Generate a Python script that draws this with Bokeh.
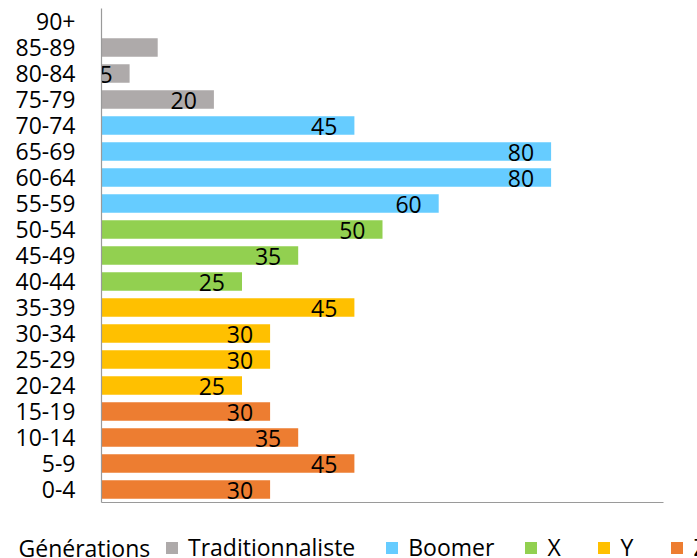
from bokeh.plotting import figure
from bokeh.models import ColumnDataSource, FactorRange, Legend, LegendItem, Label, FixedTicker
from bokeh.layouts import column
from bokeh.core.properties import value
from bokeh.embed import file_html
from bokeh.resources import INLINE

# ---- data ----
ages = ["0-4", "5-9", "10-14", "15-19", "20-24", "25-29", "30-34", "35-39",
        "40-44", "45-49", "50-54", "55-59", "60-64", "65-69", "70-74",
        "75-79", "80-84", "85-89", "90+"]
counts = [30, 45, 35, 30, 25, 30, 30, 45, 25, 35, 50, 60, 80, 80, 45, 20, 5, 10, 0]
labels = ["30", "45", "35", "30", "25", "30", "30", "45", "25", "35", "50",
          "60", "80", "80", "45", "20", "5", "", ""]
generation = ["Z", "Z", "Z", "Z", "Y", "Y", "Y", "Y", "X", "X", "X",
              "Boomer", "Boomer", "Boomer", "Boomer",
              "Traditionnaliste", "Traditionnaliste", "Traditionnaliste", "Traditionnaliste"]
gen_order = ["Traditionnaliste", "Boomer", "X", "Y", "Z"]
gen_colors = ["#AEAAAA", "#66CCFF", "#92D050", "#FFC000", "#ED7D31"]
legend_title = "Générations"

FONT = "Open Sans"
FS = "23px"
AXIS_COLOR = "#9A9A9A"

p = figure(y_range=FactorRange(*ages), x_range=(0, 100),
           frame_width=562, frame_height=494,
           min_border_left=101, min_border_right=34, min_border_top=8, min_border_bottom=8,
           output_backend="svg", toolbar_location=None)

sources = []
for g, c in zip(gen_order, gen_colors):
    idx = [i for i, gg in enumerate(generation) if gg == g]
    src = ColumnDataSource(dict(age=[ages[i] for i in idx],
                                val=[counts[i] for i in idx],
                                lab=[labels[i] for i in idx]))
    sources.append(src)
    p.hbar(y="age", right="val", left=0, height=0.71, source=src,
           fill_color=c, line_color=None)
    p.text(x="val", y="age", text="lab", source=src, x_offset=-17, y_offset=1,
           text_align="right", text_baseline="middle",
           text_font=value(FONT), text_font_size=FS, text_color="black")

p.xgrid.visible = False
p.ygrid.visible = False
p.outline_line_color = None
p.background_fill_color = "white"
p.border_fill_color = "white"

p.yaxis.axis_line_color = AXIS_COLOR
p.yaxis.axis_line_width = 1.2
p.yaxis.major_tick_line_color = None
p.yaxis.minor_tick_line_color = None
p.yaxis.major_tick_out = 0
p.yaxis.major_label_standoff = 26
p.yaxis.major_label_text_font = FONT
p.yaxis.major_label_text_font_size = FS
p.yaxis.major_label_text_color = "black"

p.xaxis.ticker = FixedTicker(ticks=[])
p.xaxis.axis_line_color = AXIS_COLOR
p.xaxis.axis_line_width = 1.2
p.xaxis.major_tick_line_color = None
p.xaxis.minor_tick_line_color = None
p.xaxis.major_tick_out = 0
p.xaxis.major_label_standoff = 0
p.xaxis.major_label_text_font_size = "0px"

# ---- legend strip (separate figure, frame covers the whole strip) ----
lf = figure(width=697, height=48, x_range=(0, 1), y_range=(0, 1),
            min_border=0, output_backend="svg", toolbar_location=None)
lf.axis.visible = False
lf.grid.visible = False
lf.outline_line_color = None
lf.background_fill_color = "white"
lf.border_fill_color = "white"

for fig in (p, lf):
    if "frame_align" in fig.properties():
        fig.frame_align = False

items = []
for g, c, src in zip(gen_order, gen_colors, sources):
    r = lf.hbar(y="age", right="val", left=0, height=0.5, source=src,
                fill_color=c, line_color=None, visible=False)
    items.append(LegendItem(label=g, renderers=[r]))

legend = Legend(items=items, orientation="horizontal", location=(164, -5),
                glyph_width=15, glyph_height=15, label_standoff=9, spacing=29,
                padding=0, margin=0, border_line_color=None, background_fill_alpha=0,
                label_text_font=FONT, label_text_font_size=FS, label_text_color="black")
lf.add_layout(legend, "center")
lf.add_layout(Label(x=18, y=11, x_units="screen", y_units="screen", text=legend_title,
                    text_baseline="middle", text_font=FONT, text_font_size=FS,
                    text_color="black"))

layout = column(p, lf, spacing=0)
open("out.html", "w").write(file_html(layout, INLINE))
